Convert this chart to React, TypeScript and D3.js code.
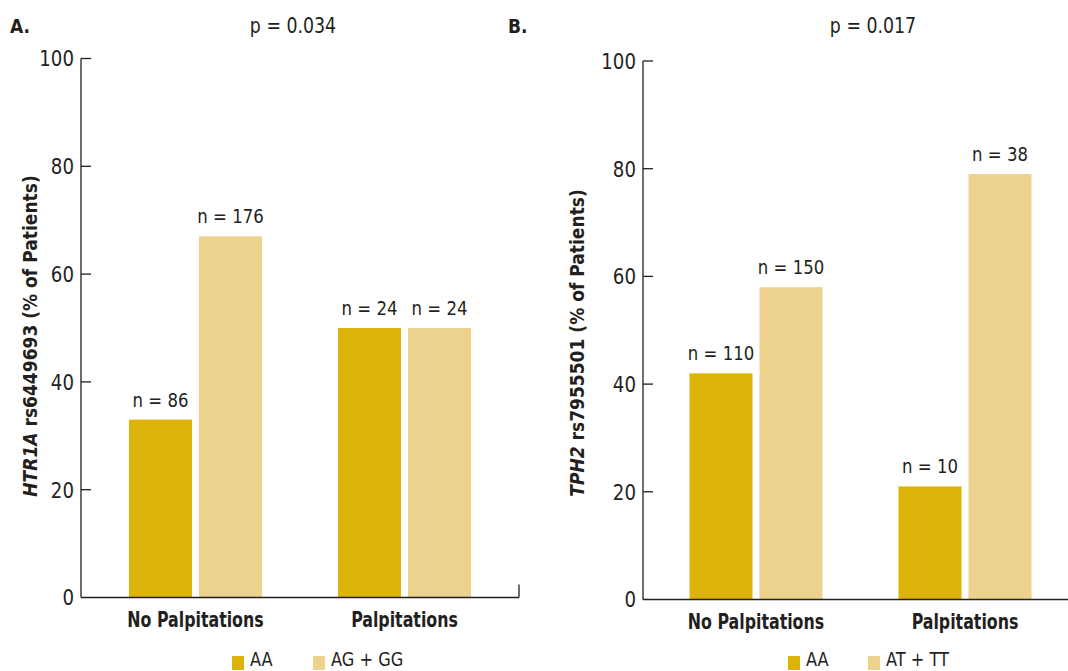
import React from "react";
import * as d3 from "d3";

const categories = ["No Palpitations", "Palpitations"];
const panelLetters = ["A.", "B."];
const pValues = ["p = 0.034", "p = 0.017"];
const geneNames = ["HTR1A", "TPH2"];
const snpNames = [" rs6449693 (% of Patients)", " rs7955501 (% of Patients)"];
const seriesA = ["AA", "AG + GG"];
const seriesB = ["AA", "AT + TT"];
const valuesA_AA = [33, 50];
const valuesA_Other = [67, 50];
const valuesB_AA = [42, 21];
const valuesB_Other = [58, 79];
const nA_AA = [86, 24];
const nA_Other = [176, 24];
const nB_AA = [110, 10];
const nB_Other = [150, 38];
const yTicks = [0, 20, 40, 60, 80, 100];

const colors = ["#dbb309", "#edd28d"];
const FONT = "'Liberation Sans Narrow', 'DejaVu Sans Condensed', 'Roboto', sans-serif";
const textColor = "#231f20";

type PanelProps = {
  axisX: number;
  xEnd: number;
  bandStart: number;
  y0: number;
  y100: number;
  letter: string;
  letterX: number;
  pText: string;
  pX: number;
  gene: string;
  snp: string;
  titleX: number;
  titleY: number;
  series: string[];
  aa: number[];
  other: number[];
  nAA: number[];
  nOther: number[];
  legendX: number;
  legendGap: number;
  endTick: boolean;
};

function Panel(p: PanelProps) {
  const y = d3.scaleLinear().domain([0, 100]).range([p.y0, p.y100]);
  const x0 = d3.scaleBand<string>().domain(categories).range([p.bandStart, p.bandStart + 418]).padding(0);
  const x1 = d3.scaleBand<string>().domain(p.series).range([38, 171]).paddingInner(0.1).paddingOuter(0);
  const data = categories.map((c, i) => ({
    cat: c,
    vals: [
      { s: p.series[0], v: p.aa[i], n: p.nAA[i] },
      { s: p.series[1], v: p.other[i], n: p.nOther[i] },
    ],
  }));
  return (
    <g>
      <text transform={`translate(${p.letterX},33) scale(0.95,1)`} fontFamily={FONT} fontWeight="bold" fontSize={20} fill={textColor}>{p.letter}</text>
      <text transform={`translate(${p.pX},33) scale(0.92,1)`} fontFamily={FONT} fontSize={21} fill={textColor} textAnchor="middle">{p.pText}</text>
      {/* bars */}
      {data.map((g) => (
        <g key={g.cat} transform={`translate(${x0(g.cat)},0)`}>
          {g.vals.map((d, j) => (
            <g key={d.s}>
              <rect x={x1(d.s)} y={y(d.v)} width={x1.bandwidth()} height={y(0) - y(d.v)} fill={colors[j]} />
              <text transform={`translate(${(x1(d.s) as number) + x1.bandwidth() / 2},${y(d.v) - 13}) scale(0.92,1)`} fontFamily={FONT} fontSize={20} fill={textColor} textAnchor="middle">{`n = ${d.n}`}</text>
            </g>
          ))}
          <text transform={`translate(${x0.bandwidth() / 2},${p.y0 + 29}) scale(0.8,1)`} fontFamily={FONT} fontWeight="bold" fontSize={22} fill={textColor} textAnchor="middle">{g.cat}</text>
        </g>
      ))}
      {/* axes */}
      <line x1={p.axisX} x2={p.axisX} y1={y(100)} y2={y(0)} stroke={textColor} strokeWidth={1.3} />
      <line x1={p.axisX} x2={p.xEnd} y1={y(0)} y2={y(0)} stroke={textColor} strokeWidth={1.3} />
      {p.endTick && <line x1={p.xEnd} x2={p.xEnd} y1={y(0) - 13} y2={y(0)} stroke={textColor} strokeWidth={1.3} />}
      {yTicks.map((t) => (
        <g key={t}>
          {t > 0 && <line x1={p.axisX} x2={p.axisX + 10} y1={y(t)} y2={y(t)} stroke={textColor} strokeWidth={1.3} />}
          <text transform={`translate(${p.axisX - 7},${y(t)}) scale(0.92,1)`} dy="0.36em" fontFamily={FONT} fontSize={22} fill={textColor} textAnchor="end">{t}</text>
        </g>
      ))}
      <text transform={`translate(${p.titleX},${p.titleY}) rotate(-90) scale(0.95,1)`} textAnchor="middle" fontFamily={FONT} fontWeight="bold" fontSize={20} fill={textColor}>
        <tspan fontStyle="italic">{p.gene}</tspan>
        <tspan>{p.snp}</tspan>
      </text>
      {/* legend */}
      {p.series.map((s, j) => (
        <g key={s} transform={`translate(${p.legendX + j * p.legendGap},0)`}>
          <rect x={0} y={656} width={12} height={14} fill={colors[j]} />
          <text transform="translate(18,666) scale(0.9,1)" fontFamily={FONT} fontSize={20} fill={textColor}>{s}</text>
        </g>
      ))}
    </g>
  );
}

export default function App() {
  return (
    <svg width={1068} height={671} style={{ position: "absolute", left: 0, top: 0, background: "#fff" }}>
      <Panel axisX={81} xEnd={519} bandStart={91} y0={597.5} y100={58.5} letter={panelLetters[0]} letterX={10} pText={pValues[0]} pX={293}
        gene={geneNames[0]} snp={snpNames[0]} titleX={37} titleY={336} series={seriesA}
        aa={valuesA_AA} other={valuesA_Other} nAA={nA_AA} nOther={nA_Other} legendX={232} legendGap={81} endTick={true} />
      <Panel axisX={643} xEnd={1068} bandStart={651.5} y0={599.5} y100={61} letter={panelLetters[1]} letterX={508} pText={pValues[1]} pX={873}
        gene={geneNames[1]} snp={snpNames[1]} titleX={584} titleY={343} series={seriesB}
        aa={valuesB_AA} other={valuesB_Other} nAA={nB_AA} nOther={nB_Other} legendX={788} legendGap={80} endTick={false} />
    </svg>
  );
}
